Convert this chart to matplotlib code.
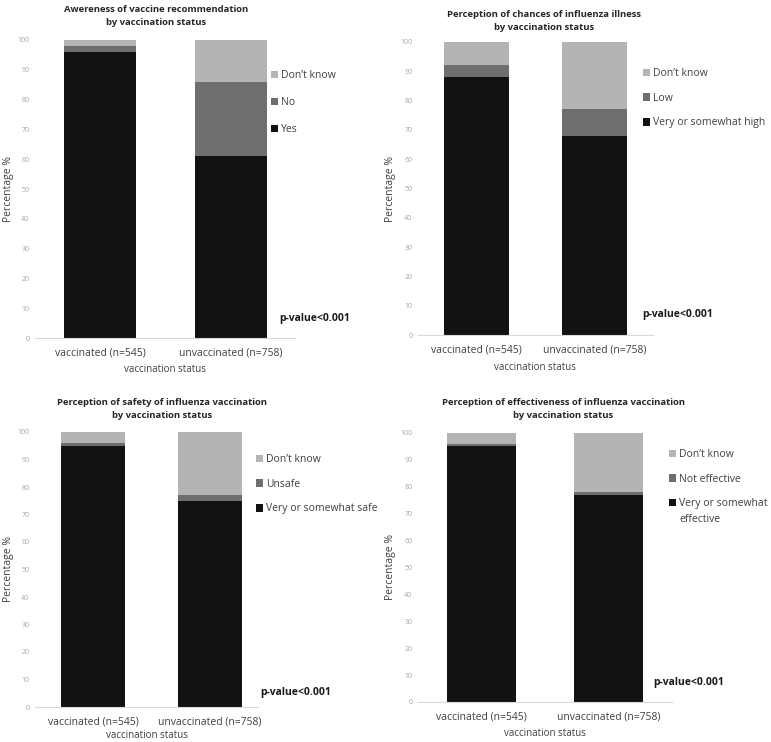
import matplotlib
matplotlib.use("Agg")
import matplotlib.pyplot as plt

plt.rcParams['font.family'] = ['Open Sans', 'DejaVu Sans']

groups = ["vaccinated (n=545)", "unvaccinated (n=758)"]

titles = [
    "Awereness of vaccine recommendation\nby vaccination status",
    "Perception of chances of influenza illness\nby vaccination status",
    "Perception of safety of influenza vaccination\nby vaccination status",
    "Perception of effectiveness of influenza vaccination\nby vaccination status",
]

# stacked from bottom: [positive, negative, don't know]
labels1 = ["Yes", "No", "Don\u2019t know"]
pos1 = [96, 61]
neg1 = [2, 25]
dk1 = [2, 14]

labels2 = ["Very or somewhat high", "Low", "Don\u2019t know"]
pos2 = [88, 68]
neg2 = [4, 9]
dk2 = [8, 23]

labels3 = ["Very or somewhat safe", "Unsafe", "Don\u2019t know"]
pos3 = [95, 75]
neg3 = [1, 2]
dk3 = [4, 23]

labels4 = ["Very or somewhat\neffective", "Not effective", "Don\u2019t know"]
pos4 = [95, 77]
neg4 = [1, 1]
dk4 = [4, 22]

pvalue = "p-value<0.001"
yticks = list(range(0, 101, 10))

colors = ["#121212", "#6e6e6e", "#b4b4b4"]

W, H = 771, 742
fig = plt.figure(figsize=(W / 100, H / 100), dpi=100)

layouts = [
    dict(l=35, r=295, t=40, b=338, xr=1.49, leg=(271, 70), ls=1.55, pv=(279, 318),
         tx=156, ty=16, xl=370, yl=9),
    dict(l=418, r=653, t=42, b=335, xr=1.50, leg=(643, 68), ls=1.32, pv=(642, 315),
         tx=544, ty=21, xl=368, yl=391),
    dict(l=35, r=258, t=432, b=707, xr=1.41, leg=(256, 454), ls=1.32, pv=(260, 693),
         tx=162, ty=409, xl=735, yl=9),
    dict(l=418, r=672, t=433, b=702, xr=1.50, leg=(669, 449), ls=1.32, pv=(653, 683),
         tx=563, ty=409, xl=733, yl=391),
]

data = [
    (labels1, pos1, neg1, dk1),
    (labels2, pos2, neg2, dk2),
    (labels3, pos3, neg3, dk3),
    (labels4, pos4, neg4, dk4),
]

extra = []
for i, (lay, (labs, p, n, d)) in enumerate(zip(layouts, data)):
    ax = fig.add_axes([lay['l'] / W, 1 - lay['b'] / H,
                       (lay['r'] - lay['l']) / W, (lay['b'] - lay['t']) / H])
    x = list(range(len(groups)))
    bottoms2 = [a + b for a, b in zip(p, n)]
    b1 = ax.bar(x, p, width=0.55, color=colors[0])
    b2 = ax.bar(x, n, width=0.55, bottom=p, color=colors[1])
    b3 = ax.bar(x, d, width=0.55, bottom=bottoms2, color=colors[2])
    ax.set_xlim(-0.5, lay['xr'])
    ax.set_ylim(0, 100)
    ax.set_yticks(yticks)
    ax.tick_params(axis='y', length=0, labelsize=5, labelcolor='#a6a6a6', pad=4)
    ax.tick_params(axis='x', length=0, labelsize=7.5, labelcolor='#404040', pad=7)
    ax.set_xticks(x)
    ax.set_xticklabels(groups)
    for s in ['top', 'right', 'left']:
        ax.spines[s].set_visible(False)
    ax.spines['bottom'].set_color('#d9d9d9')
    ax.spines['bottom'].set_linewidth(0.8)
    cx = (lay['l'] + lay['r']) / 2
    fig.text(cx / W, 1 - lay['xl'] / H, "vaccination status", ha='center', va='center',
             fontsize=7, color='#404040')
    fig.text(lay['yl'] / W, 1 - ((lay['t'] + lay['b']) / 2) / H, "Percentage %",
             rotation=90, ha='center', va='center', fontsize=7.5, color='#404040')
    fig.text(lay['tx'] / W, 1 - lay['ty'] / H, titles[i],
             ha='center', va='center', fontsize=6.8, fontweight='bold', color='#262626',
             linespacing=1.5)
    # multi-line labels: first line in legend, rest written underneath
    leg_labels = [labs[2], labs[1], labs[0]]
    first_lines = [s.split("\n")[0] for s in leg_labels]
    leg = ax.legend([b3, b2, b1], first_lines, loc='upper left',
                    bbox_to_anchor=(lay['leg'][0] / W, 1 - lay['leg'][1] / H),
                    bbox_transform=fig.transFigure, frameon=False, fontsize=7.5,
                    handlelength=0.7, handleheight=0.7, handletextpad=0.3,
                    labelspacing=lay['ls'], borderaxespad=0, borderpad=0)
    for t, full in zip(leg.get_texts(), leg_labels):
        t.set_color('#404040')
        if "\n" in full:
            extra.append((t, "\n".join(full.split("\n")[1:])))
    fig.text(lay['pv'][0] / W, 1 - lay['pv'][1] / H, pvalue, ha='left', va='center',
             fontsize=7.5, fontweight='bold', color='#1a1a1a')

fig.canvas.draw()
r = fig.canvas.get_renderer()
for t, rest in extra:
    bb = t.get_window_extent(r)
    fig.text(bb.x0 / W, (bb.y0 - 4) / H, rest, ha='left', va='top',
             fontsize=7.5, color='#404040')

fig.savefig("out.png", dpi=100, facecolor='white')
